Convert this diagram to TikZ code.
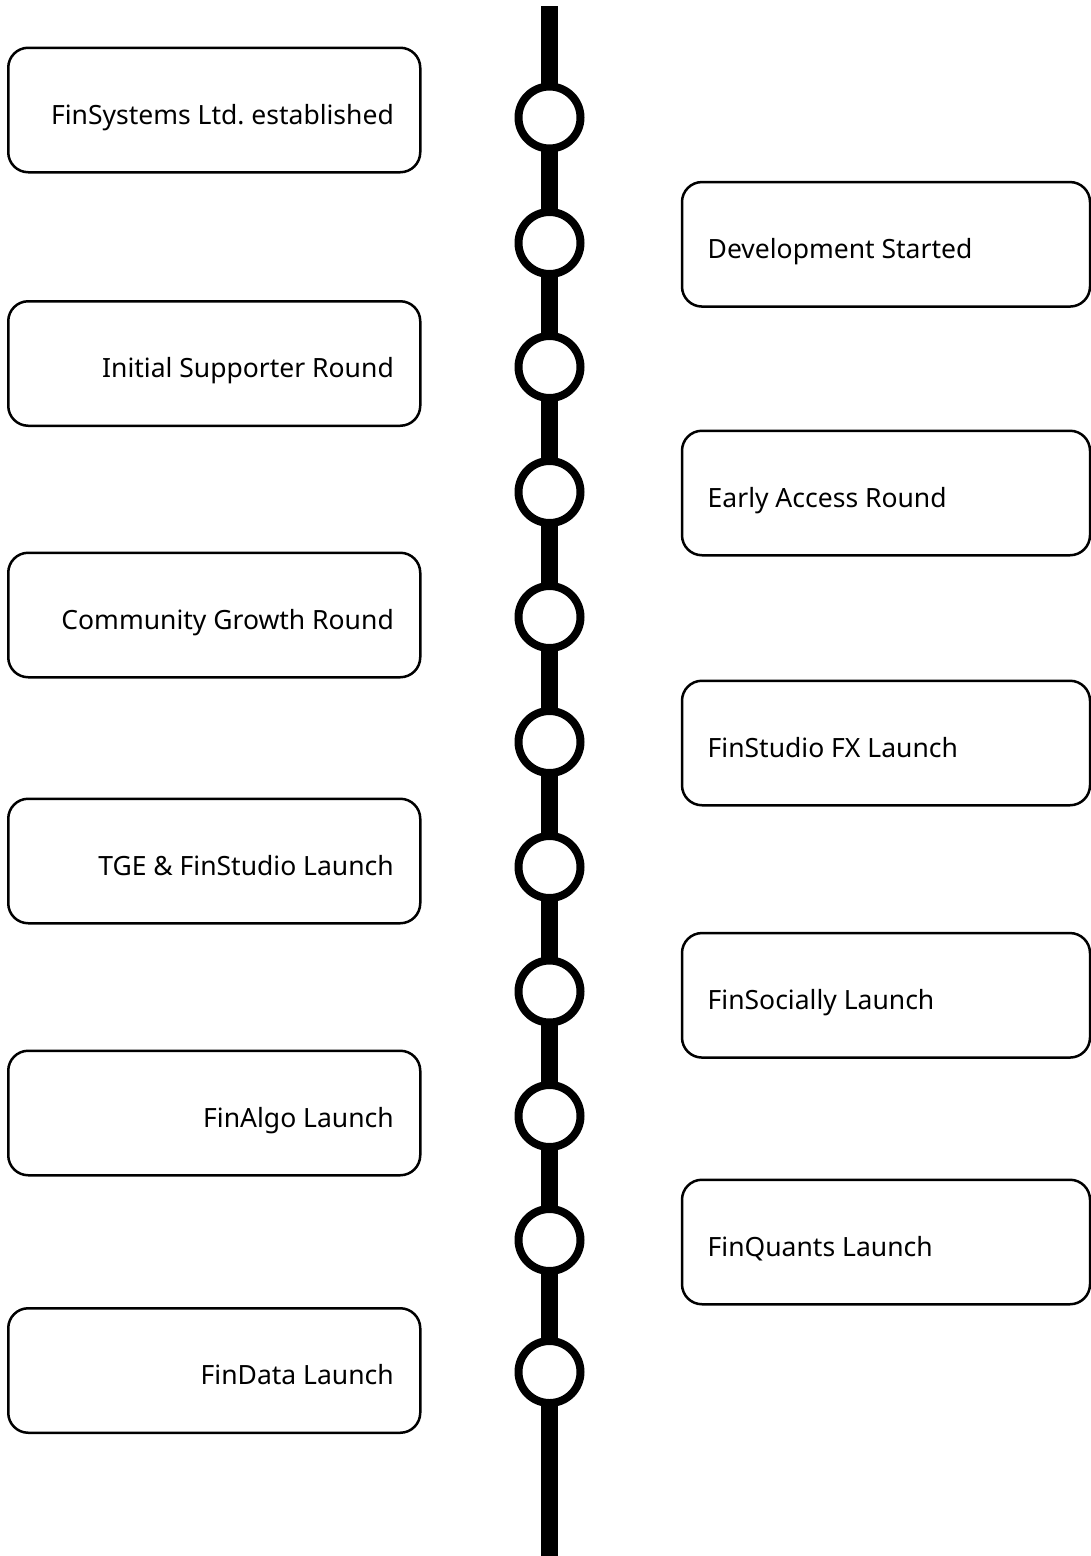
\documentclass[tikz,border=0pt]{standalone}
\usepackage{fontspec}
\setmainfont{Noto Sans}
\frenchspacing
\begin{document}
\begin{tikzpicture}[x=1pt,y=-1pt,
  evbox/.style={draw=black,line width=2.5pt,rounded corners=20pt,fill=white,
    minimum height=124.5pt,inner sep=0pt},
  leftbox/.style={evbox,minimum width=412pt},
  rightbox/.style={evbox,minimum width=408pt},
  ltext/.style={anchor=base east,inner sep=0pt,font=\fontsize{26.5pt}{31pt}\selectfont},
  rtext/.style={anchor=base west,inner sep=0pt,font=\fontsize{26.5pt}{31pt}\selectfont},
  mile/.style={circle,draw=black,line width=8pt,fill=white,minimum size=62pt,inner sep=0pt}]
\useasboundingbox (0,0) rectangle (1091,1556);

% timeline spine
\coordinate (top) at (549.5,6);
\coordinate (bottom) at (549.5,1560);
\draw[line width=17pt] (top) -- (bottom);

% milestones along the spine
\foreach \n/\y in {1/117.5,2/243,3/367,4/492,5/617,6/742,7/867,8/991.5,9/1116,10/1240,11/1372}
  \node[mile] (m\n) at (549.5,\y) {};

% events on the left
\foreach \n/\y/\t in {
  a/110/{FinSystems Ltd. established},
  b/363.5/{Initial Supporter Round},
  c/615/{Community Growth Round},
  d/861/{TGE \& FinStudio Launch},
  e/1113/{FinAlgo Launch},
  f/1370.5/{FinData Launch}}{
  \node[leftbox] (L\n) at (214.25,\y) {};
  \node[ltext] (Lt\n) at (394,\y+14) {\t};
}

% events on the right
\foreach \n/\y/\t in {
  a/244.3/{Development Started},
  b/493/{Early Access Round},
  c/743/{FinStudio FX Launch},
  d/995.3/{FinSocially Launch},
  e/1242/{FinQuants Launch}}{
  \node[rightbox] (R\n) at (886,\y) {};
  \node[rtext] (Rt\n) at (707.5,\y+14) {\t};
}
\end{tikzpicture}
\end{document}
